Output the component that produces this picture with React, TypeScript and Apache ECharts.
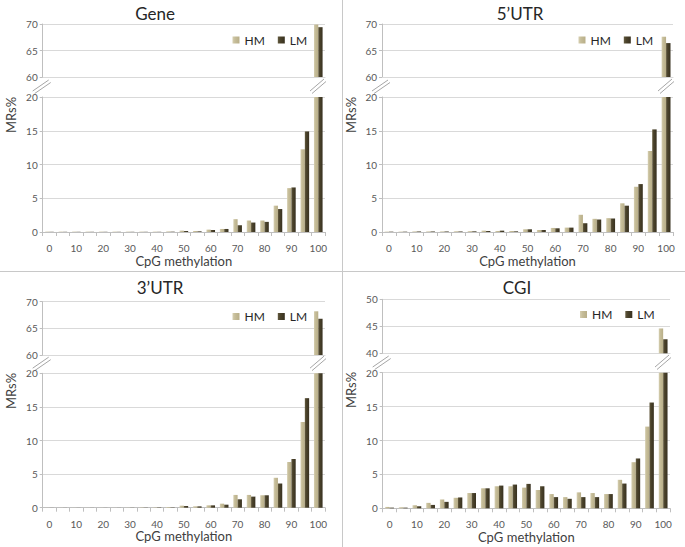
import React, { useEffect, useRef } from 'react';
import * as echarts from 'echarts';

const categories = ['0', '5', '10', '15', '20', '25', '30', '35', '40', '45', '50', '55', '60', '65', '70', '75', '80', '85', '90', '95', '100'];
const seriesNames = ['HM', 'LM'];
const panelTitles = ['Gene', '5\u2019UTR', '3\u2019UTR', 'CGI'];
const xAxisName = 'CpG methylation';
const yAxisName = 'MRs%';

const geneHM = [0.05, 0.05, 0.05, 0.05, 0.05, 0.05, 0.05, 0.05, 0.05, 0.08, 0.2, 0.15, 0.35, 0.45, 1.9, 1.7, 1.7, 3.9, 6.5, 12.25, 69.9];
const geneLM = [0.03, 0.03, 0.03, 0.03, 0.03, 0.03, 0.03, 0.03, 0.03, 0.05, 0.15, 0.1, 0.3, 0.45, 1.0, 1.4, 1.5, 3.4, 6.6, 14.9, 69.4];
const utr5HM = [0.05, 0.05, 0.08, 0.08, 0.08, 0.1, 0.12, 0.2, 0.15, 0.15, 0.4, 0.3, 0.6, 0.65, 2.55, 1.95, 2.05, 4.25, 6.7, 12.0, 67.6];
const utr5LM = [0.05, 0.05, 0.08, 0.08, 0.08, 0.08, 0.1, 0.15, 0.2, 0.1, 0.4, 0.3, 0.55, 0.65, 1.3, 1.85, 2.0, 3.9, 7.1, 15.2, 66.4];
const utr3HM = [0.01, 0.01, 0.01, 0.01, 0.01, 0.01, 0.02, 0.05, 0.05, 0.1, 0.3, 0.2, 0.35, 0.6, 1.9, 1.9, 1.85, 4.45, 6.8, 12.75, 68.2];
const utr3LM = [0.01, 0.01, 0.01, 0.01, 0.01, 0.01, 0.02, 0.03, 0.05, 0.05, 0.25, 0.2, 0.35, 0.45, 1.25, 1.65, 1.85, 3.6, 7.25, 16.3, 66.8];
const cgiHM = [0.2, 0.15, 0.45, 0.8, 1.3, 1.55, 2.25, 2.95, 3.25, 3.25, 3.05, 2.7, 2.1, 1.65, 2.35, 2.25, 2.1, 4.2, 6.8, 12.05, 44.6];
const cgiLM = [0.1, 0.1, 0.3, 0.5, 0.95, 1.6, 2.25, 2.95, 3.35, 3.5, 3.6, 3.25, 1.65, 1.4, 1.65, 1.65, 2.1, 3.65, 7.35, 15.6, 42.6];

const upperRanges = [[60, 70], [60, 70], [60, 70], [40, 50]];
const lowerRange = [0, 20];
const tickStep = 5;

const FONT = 'Lato, "Open Sans", sans-serif';
const HM_COLOR = {
  type: 'linear', x: 0, y: 0, x2: 1, y2: 0,
  colorStops: [
    { offset: 0, color: '#d6cfb1' },
    { offset: 0.35, color: '#c6bd99' },
    { offset: 1, color: '#b8ae88' },
  ],
};
const LM_COLOR = {
  type: 'linear', x: 0, y: 0, x2: 1, y2: 0,
  colorStops: [
    { offset: 0, color: '#645b40' },
    { offset: 0.35, color: '#4b432b' },
    { offset: 1, color: '#383120' },
  ],
};

// layout boxes (pixels)
const layouts = [
  { L: 42.7, R: 325, upTop: 24, upBottom: 77, lowTop: 97, lowBottom: 232, titleX: 155, titleY: 13, legendX: 232.5, legendY: 34, nameX: 11, nameY: 115 },
  { L: 382, R: 673, upTop: 24, upBottom: 77, lowTop: 97, lowBottom: 232, titleX: 520, titleY: 13, legendX: 578.5, legendY: 34, nameX: 351, nameY: 115 },
  { L: 42.7, R: 325, upTop: 301.7, upBottom: 355, lowTop: 373.3, lowBottom: 507.7, titleX: 160, titleY: 287, legendX: 232.5, legendY: 310.5, nameX: 11, nameY: 391 },
  { L: 382.7, R: 670, upTop: 299.3, upBottom: 353.3, lowTop: 372.7, lowBottom: 508.3, titleX: 517, titleY: 287, legendX: 580, legendY: 308.5, nameX: 351, nameY: 390 },
];

const panelData = [
  [geneHM, geneLM],
  [utr5HM, utr5LM],
  [utr3HM, utr3LM],
  [cgiHM, cgiLM],
];

export default function App() {
  const ref = useRef<HTMLDivElement>(null);
  useEffect(() => {
    const chart = echarts.init(ref.current!, null, { renderer: 'svg' });
    const grid: any[] = [];
    const xAxis: any[] = [];
    const yAxis: any[] = [];
    const series: any[] = [];
    const legend: any[] = [];
    const graphic: any[] = [];

    const axisGray = '#bfbfbf';
    const gridGray = '#d9d9d9';
    const labelColor = '#595959';

    layouts.forEach((lay, i) => {
      const w = lay.R - lay.L;
      grid.push({ left: lay.L, top: lay.upTop, width: w, height: lay.upBottom - lay.upTop, containLabel: false });
      grid.push({ left: lay.L, top: lay.lowTop, width: w, height: lay.lowBottom - lay.lowTop, containLabel: false });

      xAxis.push({
        type: 'category', gridIndex: 2 * i, data: categories, boundaryGap: true,
        axisLine: { show: true, lineStyle: { color: gridGray } },
        axisTick: { show: false }, axisLabel: { show: false },
      });
      xAxis.push({
        type: 'category', gridIndex: 2 * i + 1, data: categories, boundaryGap: true,
        axisLine: { show: true, lineStyle: { color: axisGray } },
        axisTick: { show: true, interval: 0, length: 4, lineStyle: { color: axisGray } },
        axisLabel: { interval: 1, fontSize: 10, lineHeight: 10, color: labelColor, margin: 11, fontFamily: FONT },
        name: xAxisName, nameLocation: 'middle', nameGap: 22,
        nameTextStyle: { fontSize: 13, lineHeight: 13, color: '#404040', fontFamily: FONT },
      });

      const yCommon = {
        type: 'value', interval: tickStep,
        axisLine: { show: true, lineStyle: { color: axisGray } },
        axisTick: { show: true, length: 3, lineStyle: { color: axisGray } },
        splitLine: { show: true, lineStyle: { color: gridGray } },
        axisLabel: { fontSize: 10, color: labelColor, margin: 5, fontFamily: FONT },
      };
      yAxis.push({ ...yCommon, gridIndex: 2 * i, min: upperRanges[i][0], max: upperRanges[i][1] });
      yAxis.push({ ...yCommon, gridIndex: 2 * i + 1, min: lowerRange[0], max: lowerRange[1] });

      panelData[i].forEach((vals, s) => {
        const color = s === 0 ? HM_COLOR : LM_COLOR;
        series.push({
          type: 'bar', name: seriesNames[s], xAxisIndex: 2 * i + 1, yAxisIndex: 2 * i + 1,
          data: vals, barGap: '0%', barCategoryGap: '36%', itemStyle: { color, borderWidth: 0 }, clip: true,
        });
        series.push({
          type: 'bar', name: seriesNames[s], xAxisIndex: 2 * i, yAxisIndex: 2 * i,
          data: vals.map((v) => (v >= upperRanges[i][0] ? v : '-')),
          barGap: '0%', barCategoryGap: '36%', itemStyle: { color, borderWidth: 0 }, clip: true,
        });
      });

      legend.push({
        left: lay.legendX, top: lay.legendY, padding: 0, itemWidth: 7, itemHeight: 7, itemGap: 13,
        icon: 'rect', selectedMode: false, data: seriesNames,
        itemStyle: { borderWidth: 0 },
        textStyle: { fontSize: 12, color: '#262626', fontFamily: FONT },
      });

      // title
      graphic.push({
        type: 'text', x: lay.titleX, y: lay.titleY,
        style: { text: panelTitles[i], font: `normal 400 17px ${FONT}`, fill: '#262626', align: 'center', verticalAlign: 'middle', textAlign: 'center', textVerticalAlign: 'middle' },
      });
      // y axis name
      graphic.push({
        type: 'text', x: lay.nameX, y: lay.nameY, rotation: Math.PI / 2,
        style: { text: yAxisName, font: `13px ${FONT}`, fill: '#404040', align: 'center', verticalAlign: 'middle', textAlign: 'center', textVerticalAlign: 'middle' },
      });
      // break marks
      const C = (lay.upBottom + lay.lowTop) / 2;
      const markStyle = { stroke: '#a6a6a6', lineWidth: 1 };
      const L = lay.L;
      const R = lay.R;
      graphic.push({ type: 'line', shape: { x1: L - 10, y1: C + 4, x2: L + 6, y2: C - 7 }, style: markStyle });
      graphic.push({ type: 'line', shape: { x1: L - 8, y1: C + 6.5, x2: L + 8, y2: C - 4.5 }, style: markStyle });
      graphic.push({ type: 'line', shape: { x1: R - 15, y1: C + 4, x2: R - 1, y2: C - 8 }, style: markStyle });
      graphic.push({ type: 'line', shape: { x1: R - 13, y1: C + 6.5, x2: R + 1, y2: C - 5.5 }, style: markStyle });
    });

    // panel separators
    graphic.push({ type: 'line', shape: { x1: 342.5, y1: 0, x2: 342.5, y2: 547 }, style: { stroke: '#c8c8c8', lineWidth: 1 } });
    graphic.push({ type: 'line', shape: { x1: 0, y1: 271.5, x2: 685, y2: 271.5 }, style: { stroke: '#c8c8c8', lineWidth: 1 } });

    chart.setOption({
      animation: false,
      backgroundColor: '#ffffff',
      textStyle: { fontFamily: FONT },
      grid, xAxis, yAxis, series, legend, graphic,
    });
    return () => chart.dispose();
  }, []);
  return <div ref={ref} style={{ position: 'absolute', left: 0, top: 0, width: 685, height: 547, background: '#fff' }} />;
}
